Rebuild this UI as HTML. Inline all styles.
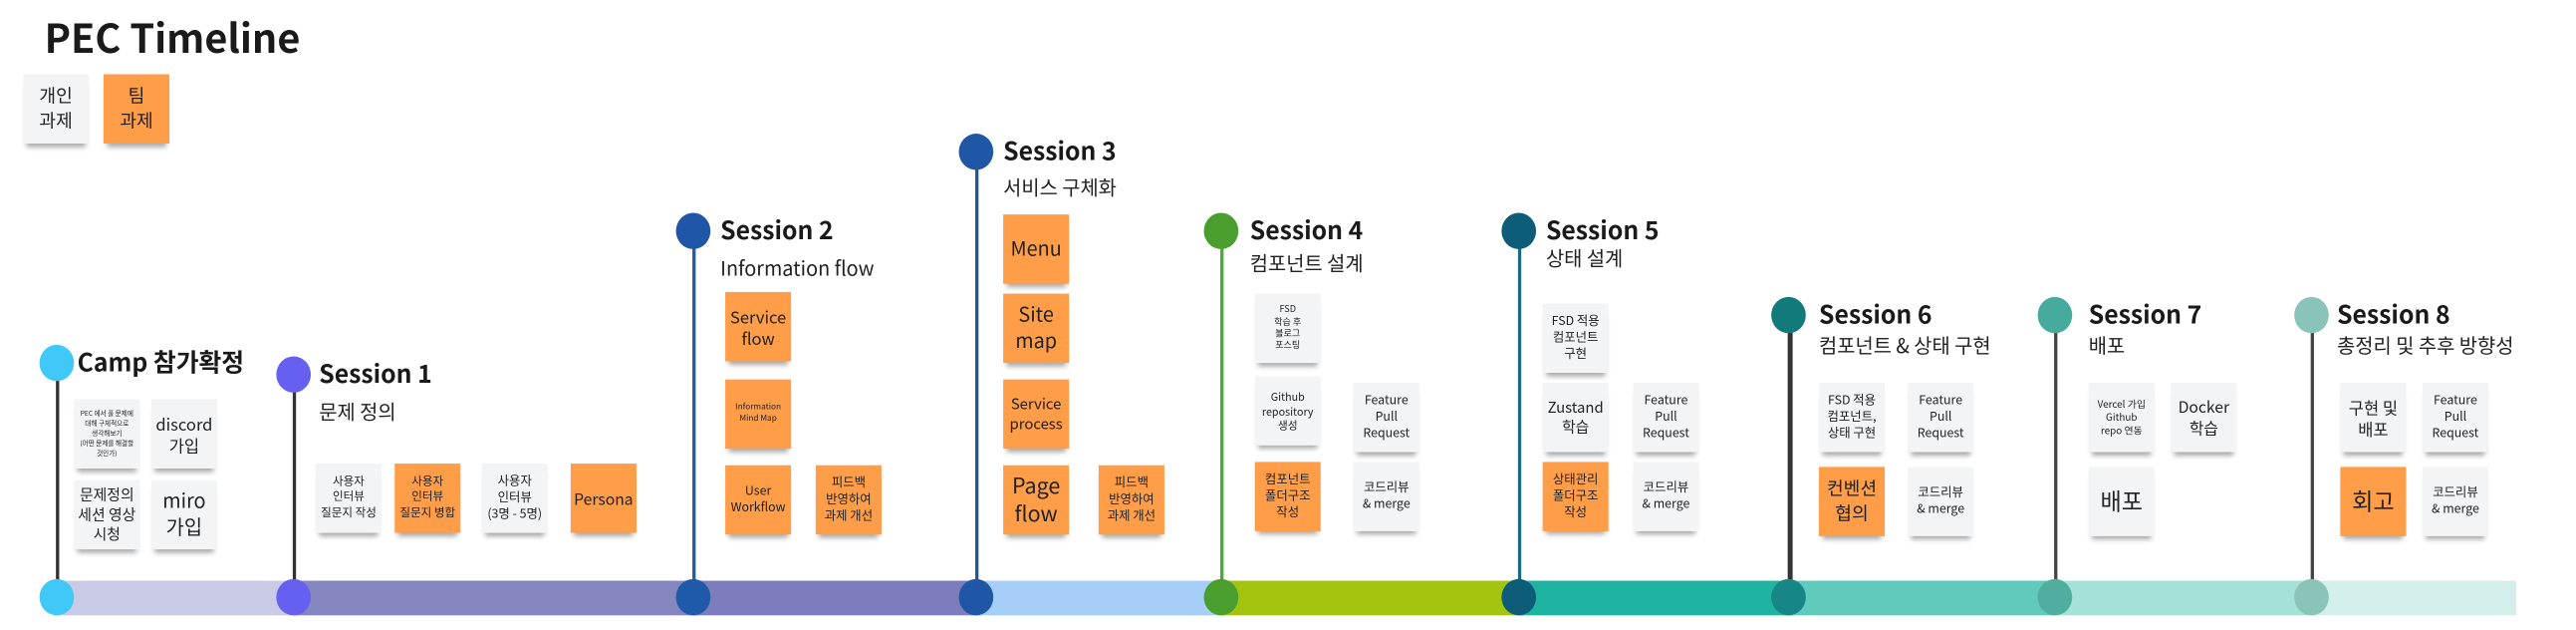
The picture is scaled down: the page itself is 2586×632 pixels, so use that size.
<!DOCTYPE html>
<html><head><meta charset="utf-8"><style>
html,body{margin:0;padding:0;background:#fff;}
body{width:2586px;height:630px;overflow:hidden;position:relative;}
#w{position:absolute;left:0;top:0;width:1566px;height:382px;transform:scale(1.651,1.655);transform-origin:0 0;font-family:"Liberation Sans","Noto Sans CJK KR",sans-serif;color:#1a1a1a;}
.s{position:absolute;width:40px;height:42px;background:#f3f4f5;display:flex;align-items:center;justify-content:center;text-align:center;font-size:7px;line-height:1.35;box-shadow:0 4px 3px -2px rgba(0,0,0,0.35);color:#222;font-family:"Noto Sans CJK KR",sans-serif;}
.o{background:#ff9d48;}
.c{position:absolute;width:21px;height:22px;border-radius:50%;}
.v{position:absolute;width:1.5px;}
.h{position:absolute;font-weight:bold;font-size:15px;font-family:"Noto Sans CJK KR","Liberation Sans",sans-serif;white-space:nowrap;line-height:1;}
.t{position:absolute;font-size:12px;font-family:"Noto Sans CJK KR",sans-serif;white-space:nowrap;line-height:1;color:#222;}
.b{position:absolute;top:352px;height:21px;}
</style></head><body><div id="w">
<div style="position:absolute;left:27px;top:8px;font-size:24px;font-weight:bold;font-family:'Noto Sans CJK KR',sans-serif;line-height:1.2">PEC Timeline</div>
<div class="s" style="left:14px;top:45px;font-size:11px">개인<br>과제</div>
<div class="s o" style="left:63px;top:45px;font-size:11px">팀<br>과제</div>

<div class="b" style="left:35px;width:145px;background:#c8cae6"></div>
<div class="b" style="left:178px;width:246px;background:#8486c0"></div>
<div class="b" style="left:422px;width:174px;background:#7b7dbd"></div>
<div class="b" style="left:594px;width:151px;background:#a6cff8"></div>
<div class="b" style="left:743px;width:183px;background:#a2c40e"></div>
<div class="b" style="left:924px;width:166px;background:#1fb3a2"></div>
<div class="b" style="left:1088px;width:164px;background:#62c9bd"></div>
<div class="b" style="left:1250px;width:158px;background:#a6e1d8"></div>
<div class="b" style="left:1406px;width:124px;background:#d3efec"></div>

<div class="v" style="left:34px;top:228px;height:125px;background:#333"></div>
<div class="v" style="left:178px;top:236px;height:117px;background:#333"></div>
<div class="v" style="left:421px;top:150px;height:203px;background:#1f5aa8"></div>
<div class="v" style="left:593px;top:102px;height:251px;background:#1f5a8a"></div>
<div class="v" style="left:742px;top:150px;height:203px;background:#4aaa3a"></div>
<div class="v" style="left:923px;top:150px;height:203px;background:#1b6a80"></div>
<div class="v" style="left:1087px;top:200px;height:153px;width:2.5px;background:#333"></div>
<div class="v" style="left:1249px;top:200px;height:153px;background:#444"></div>
<div class="v" style="left:1405px;top:200px;height:153px;background:#444"></div>

<div class="c" style="left:24px;top:209px;background:#40c8f8"></div>
<div class="c" style="left:168px;top:216px;background:#6560f0"></div>
<div class="c" style="left:411px;top:129px;background:#1f56a8"></div>
<div class="c" style="left:583px;top:81px;background:#1f56a6"></div>
<div class="c" style="left:732px;top:129px;background:#4a9e2e"></div>
<div class="c" style="left:913px;top:129px;background:#0d5c78"></div>
<div class="c" style="left:1077px;top:180px;background:#127a7a"></div>
<div class="c" style="left:1239px;top:180px;background:#46ab9c"></div>
<div class="c" style="left:1395px;top:180px;background:#8ac4b8"></div>
<div class="c" style="left:24px;top:351px;background:#40c8f8"></div>
<div class="c" style="left:168px;top:351px;background:#6560f0"></div>
<div class="c" style="left:411px;top:351px;background:#1f5aa8"></div>
<div class="c" style="left:583px;top:351px;background:#1f56a6"></div>
<div class="c" style="left:732px;top:351px;background:#4a9e2e"></div>
<div class="c" style="left:913px;top:351px;background:#0d5c78"></div>
<div class="c" style="left:1077px;top:351px;background:#168686"></div>
<div class="c" style="left:1239px;top:351px;background:#4fae9f"></div>
<div class="c" style="left:1395px;top:351px;background:#8ac4b8"></div>

<div class="h" style="left:47px;top:212px">Camp 참가확정</div>
<div class="h" style="left:194px;top:219px">Session 1</div>
<div class="t" style="left:194px;top:244px">문제 정의</div>
<div class="h" style="left:438px;top:132px">Session 2</div>
<div class="t" style="left:438px;top:157px">Information flow</div>
<div class="h" style="left:610px;top:84px">Session 3</div>
<div class="t" style="left:610px;top:108px">서비스 구체화</div>
<div class="h" style="left:760px;top:132px">Session 4</div>
<div class="t" style="left:760px;top:154px">컴포넌트 설계</div>
<div class="h" style="left:940px;top:132px">Session 5</div>
<div class="t" style="left:940px;top:151px">상태 설계</div>
<div class="h" style="left:1106px;top:183px">Session 6</div>
<div class="t" style="left:1106px;top:204px">컴포넌트 &amp; 상태 구현</div>
<div class="h" style="left:1270px;top:183px">Session 7</div>
<div class="t" style="left:1270px;top:204px">배포</div>
<div class="h" style="left:1421px;top:183px">Session 8</div>
<div class="t" style="left:1421px;top:204px">총정리 및 추후 방향성</div>

<div class="s" style="left:45px;top:242px;font-size:4px;line-height:1.5">PEC 에서 풀 문제에<br>대해 구체적으로<br>생각해보기<br>(어떤 문제를 해결할<br>것인가)</div>
<div class="s" style="left:92px;top:242px;font-size:10px">discord<br>가입</div>
<div class="s" style="left:45px;top:291px;font-size:9px">문제정의<br>세션 영상<br>시청</div>
<div class="s" style="left:92px;top:291px;font-size:12px">miro<br>가입</div>
<div class="s" style="left:192px;top:281px">사용자<br>인터뷰<br>질문지 작성</div>
<div class="s o" style="left:240px;top:281px">사용자<br>인터뷰<br>질문지 병합</div>
<div class="s" style="left:293px;top:281px;font-size:7.5px">사용자<br>인터뷰<br>(3명 - 5명)</div>
<div class="s o" style="left:347px;top:281px;font-size:9.5px">Persona</div>
<div class="s o" style="left:441px;top:177px;font-size:10px">Service<br>flow</div>
<div class="s o" style="left:441px;top:230px;font-size:5px">Information<br>Mind Map</div>
<div class="s o" style="left:441px;top:282px;font-size:7.5px">User<br>Workflow</div>
<div class="s o" style="left:496px;top:282px;font-size:7.5px">피드백<br>반영하여<br>과제 개선</div>
<div class="s o" style="left:610px;top:130px;font-size:12px">Menu</div>
<div class="s o" style="left:610px;top:178px;font-size:12px">Site<br>map</div>
<div class="s o" style="left:610px;top:230px;font-size:9px">Service<br>process</div>
<div class="s o" style="left:610px;top:282px;font-size:13px;line-height:1.3">Page<br>flow</div>
<div class="s o" style="left:668px;top:282px;font-size:7.5px">피드백<br>반영하여<br>과제 개선</div>
<div class="s" style="left:763px;top:178px;font-size:5.5px">FSD<br>학습 후<br>블로그<br>포스팅</div>
<div class="s" style="left:763px;top:228px;font-size:6.5px">Github<br>repository<br>생성</div>
<div class="s" style="left:823px;top:232px;font-size:7.5px">Feature<br>Pull<br>Request</div>
<div class="s o" style="left:763px;top:280px;font-size:7.5px">컴포넌트<br>폴더구조<br>작성</div>
<div class="s" style="left:823px;top:280px;font-size:7.5px">코드리뷰<br>&amp; merge</div>
<div class="s" style="left:938px;top:184px;font-size:7.5px">FSD 적용<br>컴포넌트<br>구현</div>
<div class="s" style="left:938px;top:232px;font-size:9px">Zustand<br>학습</div>
<div class="s" style="left:993px;top:232px;font-size:7.5px">Feature<br>Pull<br>Request</div>
<div class="s o" style="left:938px;top:280px;font-size:7.5px">상태관리<br>폴더구조<br>작성</div>
<div class="s" style="left:993px;top:280px;font-size:7.5px">코드리뷰<br>&amp; merge</div>
<div class="s" style="left:1106px;top:232px;font-size:7.5px">FSD 적용<br>컴포넌트,<br>상태 구현</div>
<div class="s" style="left:1160px;top:232px;font-size:7.5px">Feature<br>Pull<br>Request</div>
<div class="s o" style="left:1106px;top:283px;font-size:11px">컨벤션<br>협의</div>
<div class="s" style="left:1160px;top:283px;font-size:7.5px">코드리뷰<br>&amp; merge</div>
<div class="s" style="left:1270px;top:232px;font-size:6px">Vercel 가입<br>Github<br>repo 연동</div>
<div class="s" style="left:1320px;top:232px;font-size:9.5px">Docker<br>학습</div>
<div class="s" style="left:1270px;top:283px;font-size:14px">배포</div>
<div class="s" style="left:1423px;top:232px;font-size:10px">구현 및<br>배포</div>
<div class="s" style="left:1473px;top:232px;font-size:7.5px">Feature<br>Pull<br>Request</div>
<div class="s o" style="left:1423px;top:283px;font-size:14px">회고</div>
<div class="s" style="left:1473px;top:283px;font-size:7.5px">코드리뷰<br>&amp; merge</div>
</div></body></html>
